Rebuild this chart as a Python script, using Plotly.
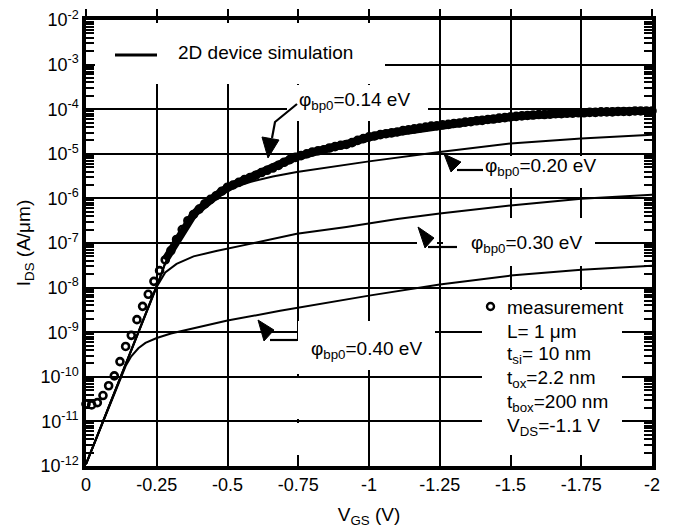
import plotly.graph_objects as go

# ---------------- data ----------------
vgs_meas = [0.00, -0.02, -0.04, -0.06, -0.08, -0.10, -0.12, -0.14, -0.16, -0.18,
            -0.20, -0.22, -0.24, -0.26, -0.28, -0.30, -0.32, -0.34, -0.36, -0.38,
            -0.40, -0.42, -0.44, -0.46, -0.48, -0.50, -0.52, -0.54, -0.56, -0.58,
            -0.60, -0.62, -0.64, -0.66, -0.68, -0.70, -0.72, -0.74, -0.76, -0.78,
            -0.80, -0.82, -0.84, -0.86, -0.88, -0.90, -0.92, -0.94, -0.96, -0.98,
            -1.00, -1.02, -1.04, -1.06, -1.08, -1.10, -1.12, -1.14, -1.16, -1.18,
            -1.20, -1.22, -1.24, -1.26, -1.28, -1.30, -1.32, -1.34, -1.36, -1.38,
            -1.40, -1.42, -1.44, -1.46, -1.48, -1.50, -1.52, -1.54, -1.56, -1.58,
            -1.60, -1.62, -1.64, -1.66, -1.68, -1.70, -1.72, -1.74, -1.76, -1.78,
            -1.80, -1.82, -1.84, -1.86, -1.88, -1.90, -1.92, -1.94, -1.96, -1.98,
            -2.00]
ids_meas = [2.45e-11, 2.34e-11, 2.63e-11, 3.80e-11, 6.3e-11, 1.05e-10, 2.19e-10, 4.79e-10, 8.5e-10, 1.91e-9,
            3.80e-9, 7.08e-9, 1.38e-8, 2.40e-8, 4.17e-8, 6.76e-8, 1.20e-7, 2.00e-7, 3.16e-7, 4.37e-7,
            5.75e-7, 7.59e-7, 9.55e-7, 1.15e-6, 1.45e-6, 1.78e-6, 2.00e-6, 2.29e-6, 2.63e-6, 2.95e-6,
            3.31e-6, 3.80e-6, 4.27e-6, 4.79e-6, 5.50e-6, 6.46e-6, 7.41e-6, 8.32e-6, 9.12e-6, 1.00e-5,
            1.10e-5, 1.17e-5, 1.23e-5, 1.35e-5, 1.45e-5, 1.55e-5, 1.62e-5, 1.78e-5, 2.00e-5, 2.19e-5,
            2.40e-5, 2.51e-5, 2.69e-5, 2.82e-5, 2.95e-5, 3.09e-5, 3.31e-5, 3.47e-5, 3.63e-5, 3.80e-5,
            3.98e-5, 4.17e-5, 4.27e-5, 4.47e-5, 4.57e-5, 4.79e-5, 4.90e-5, 5.13e-5, 5.25e-5, 5.50e-5,
            5.62e-5, 5.89e-5, 6.03e-5, 6.31e-5, 6.46e-5, 6.76e-5, 6.92e-5, 7.08e-5, 7.24e-5, 7.41e-5,
            7.59e-5, 7.59e-5, 7.76e-5, 7.94e-5, 7.94e-5, 8.13e-5, 8.13e-5, 8.32e-5, 8.32e-5, 8.51e-5,
            8.51e-5, 8.71e-5, 8.71e-5, 8.71e-5, 8.91e-5, 8.91e-5, 8.91e-5, 9.12e-5, 9.12e-5, 9.12e-5,
            9.12e-5]

vgs_sim014 = [0.00, -0.24, -0.26, -0.28, -0.30, -0.32, -0.36, -0.40, -0.46, -0.52, -0.60,
              -0.70, -0.80, -0.90, -1.00, -1.25, -1.50, -1.75, -2.00]
ids_sim014 = [1.10e-12, 7.24e-9, 1.58e-8, 3.55e-8, 6.31e-8, 1.15e-7, 3.02e-7, 5.62e-7, 1.12e-6, 1.95e-6, 3.24e-6,
              6.31e-6, 1.07e-5, 1.51e-5, 2.34e-5, 4.37e-5, 6.76e-5, 8.32e-5, 9.12e-5]

vgs_sim020 = [0.00, -0.24, -0.26, -0.28, -0.30, -0.32, -0.36, -0.40, -0.46, -0.50, -0.58,
              -0.66, -0.745, -0.90, -1.00, -1.25, -1.50, -1.75, -2.00]
ids_sim020 = [1.10e-12, 7.24e-9, 1.58e-8, 3.55e-8, 6.31e-8, 1.15e-7, 3.02e-7, 5.62e-7, 1.12e-6, 1.58e-6, 2.34e-6,
              3.09e-6, 3.89e-6, 5.50e-6, 6.76e-6, 1.10e-5, 1.70e-5, 2.19e-5, 2.69e-5]

vgs_sim030 = [0.00, -0.22, -0.25, -0.28, -0.32, -0.38, -0.46, -0.58, -0.745, -0.92,
              -1.10, -1.25, -1.50, -1.75, -2.00]
ids_sim030 = [1.10e-12, 3.47e-9, 1.05e-8, 2.19e-8, 3.39e-8, 5.01e-8, 6.61e-8, 9.55e-8, 1.62e-7, 2.29e-7,
              3.47e-7, 4.57e-7, 6.92e-7, 9.77e-7, 1.20e-6]

vgs_sim040 = [0.00, -0.10, -0.12, -0.14, -0.16, -0.185, -0.21, -0.25, -0.30, -0.40, -0.50,
              -0.686, -0.898, -1.00, -1.25, -1.50, -1.75, -2.00]
ids_sim040 = [1.10e-12, 4.27e-11, 8.91e-11, 1.74e-10, 2.88e-10, 4.37e-10, 5.75e-10, 7.41e-10, 9.33e-10, 1.32e-9, 1.82e-9,
              3.02e-9, 5.25e-9, 6.61e-9, 1.17e-8, 1.86e-8, 2.51e-8, 3.09e-8]

x_tickvals = [0, -0.25, -0.5, -0.75, -1, -1.25, -1.5, -1.75, -2]
x_ticktext = ["0", "-0.25", "-0.5", "-0.75", "-1", "-1.25", "-1.5", "-1.75", "-2"]
y_exponents = [-12, -11, -10, -9, -8, -7, -6, -5, -4, -3, -2]
y_tickvals = [10.0 ** e for e in y_exponents]
y_ticktext = ["10<sup>%d</sup>" % e for e in y_exponents]
y_minor = [m * 10.0 ** e for e in y_exponents[:-1] for m in range(2, 10)]

# ---------------- layout geometry ----------------
# the page body adds an 8px margin, so the figure is made 8px smaller
OFF = 8
W, H = 675 - OFF, 531 - OFF
L, R, T, B = 86, 652, 20, 466          # plot area in window pixels
FONT = "Liberation Sans, Arial, Helvetica, sans-serif"


def px(x):
    return (x - L) / (R - L)


def py(y):
    return 1 - (y - T) / (B - T)


fig = go.Figure()

sim_sets = [(vgs_sim014, ids_sim014), (vgs_sim020, ids_sim020),
            (vgs_sim030, ids_sim030), (vgs_sim040, ids_sim040)]
for vx, iy in sim_sets:
    fig.add_trace(go.Scatter(x=vx, y=iy, mode="lines",
                             line=dict(color="black", width=2),
                             showlegend=False, hoverinfo="skip"))

# dense measurement band (points merge into a thick band above threshold)
N0 = 14
fig.add_trace(go.Scatter(x=vgs_meas[N0:], y=ids_meas[N0:], mode="lines",
                         line=dict(color="black", width=8),
                         showlegend=False, hoverinfo="skip"))
fig.add_trace(go.Scatter(x=vgs_meas, y=ids_meas, mode="markers",
                         marker=dict(symbol="circle-open", size=7, color="black",
                                     line=dict(color="black", width=2.6)),
                         cliponaxis=False, showlegend=False, hoverinfo="skip"))

# dummy trace for top axis
fig.add_trace(go.Scatter(x=[None], y=[None], xaxis="x2", showlegend=False, hoverinfo="skip"))

shapes = []
# white boxes interrupting the grid behind labels
boxes = [(95, 23, 385, 84), (287, 85, 428, 121), (450, 156, 600, 188),
         (417, 236, 437, 250), (443, 218, 595, 266), (298, 321, 435, 370),
         (293, 341, 301, 374), (293, 378, 301, 419), (293, 423, 301, 455),
         (482, 290, 622, 455)]
for x0, y0, x1, y1 in boxes:
    shapes.append(dict(type="rect", xref="paper", yref="paper",
                       x0=px(x0), x1=px(x1), y0=py(y1), y1=py(y0),
                       fillcolor="white", line=dict(width=0), layer="above"))

# legend line sample
shapes.append(dict(type="line", xref="paper", yref="paper",
                   x0=px(115), x1=px(157), y0=py(55), y1=py(55),
                   line=dict(color="black", width=3), layer="above"))


def path(pts, close=False):
    s = "M " + " L ".join("%f,%f" % (px(a), py(b)) for a, b in pts)
    return s + (" Z" if close else "")


arrow_lines = [[(297, 104), (275, 122), (272, 138)],
               [(483, 170), (457, 170)],
               [(457, 247), (428, 247)],
               [(297, 340), (270, 340)]]
arrow_heads = [[(262, 137), (279, 140), (268, 158)],
               [(444, 154), (461, 162), (451, 172)],
               [(418, 227), (434, 238), (425, 248)],
               [(258, 320), (274, 330), (264, 341)]]
for pts in arrow_lines:
    shapes.append(dict(type="path", xref="paper", yref="paper", path=path(pts),
                       line=dict(color="black", width=2.2), layer="above"))
for pts in arrow_heads:
    shapes.append(dict(type="path", xref="paper", yref="paper", path=path(pts, True),
                       fillcolor="black", line=dict(color="black", width=1), layer="above"))

# measurement symbol in the text block
shapes.append(dict(type="circle", xref="paper", yref="paper",
                   x0=px(487), x1=px(494), y0=py(310), y1=py(303),
                   line=dict(color="black", width=2.4), layer="above"))

annotations = []


def txt(t, x, y, size=19):
    annotations.append(dict(text=t, xref="paper", yref="paper", x=px(x), y=py(y),
                            xanchor="left", yanchor="middle", showarrow=False,
                            font=dict(family=FONT, size=size, color="black")))


txt("2D device simulation", 176, 53)
txt("φ<sub>bp0</sub>=0.14 eV", 297, 101)
txt("φ<sub>bp0</sub>=0.20 eV", 483, 167)
txt("φ<sub>bp0</sub>=0.30 eV", 469, 244)
txt("φ<sub>bp0</sub>=0.40 eV", 309, 350)
txt("measurement", 505, 307)
txt("L= 1 μm", 505, 331)
txt("t<sub>si</sub>= 10 nm", 505, 355)
txt("t<sub>ox</sub>=2.2 nm", 505, 379)
txt("t<sub>box</sub>=200 nm", 505, 403)
txt("V<sub>DS</sub>=-1.1 V", 505, 427)

fig.update_layout(
    width=W, height=H,
    margin=dict(l=L - OFF, r=W - (R - OFF), t=T - OFF, b=H - (B - OFF), autoexpand=False),
    paper_bgcolor="white", plot_bgcolor="white",
    font=dict(family=FONT, size=18, color="black"),
    shapes=shapes, annotations=annotations,
    xaxis=dict(range=[0, -2], tickvals=x_tickvals, ticktext=x_ticktext,
               showgrid=True, gridcolor="black", gridwidth=2, automargin=False,
               zeroline=False, showline=True, linecolor="black", linewidth=3.5,
               mirror=True, ticks="inside", ticklen=10, tickwidth=2, tickcolor="black",
               tickfont=dict(size=18), ticklabeloverflow="allow",
               title=dict(text="V<sub>GS</sub> (V)", font=dict(size=19), standoff=14)),
    xaxis2=dict(range=[0, -2], overlaying="x", side="top", tickvals=x_tickvals,
                showticklabels=False, showgrid=False, zeroline=False, showline=False,
                automargin=False,
                ticks="outside", ticklen=10, tickwidth=2, tickcolor="black"),
    yaxis=dict(type="log", range=[-12, -2], tickvals=y_tickvals, ticktext=y_ticktext,
               showgrid=True, gridcolor="black", gridwidth=2, automargin=False,
               zeroline=False, showline=True, linecolor="black", linewidth=3.5,
               mirror="allticks", ticks="inside", ticklen=8, tickwidth=2, tickcolor="black",
               tickfont=dict(size=18), ticklabeloverflow="allow",
               minor=dict(tickvals=y_minor, ticks="inside", ticklen=4, tickwidth=1.5,
                          tickcolor="black", showgrid=False),
               title=dict(text="I<sub>DS</sub> (A/μm)", font=dict(size=19), standoff=6)),
)

fig.write_html("out.html")
